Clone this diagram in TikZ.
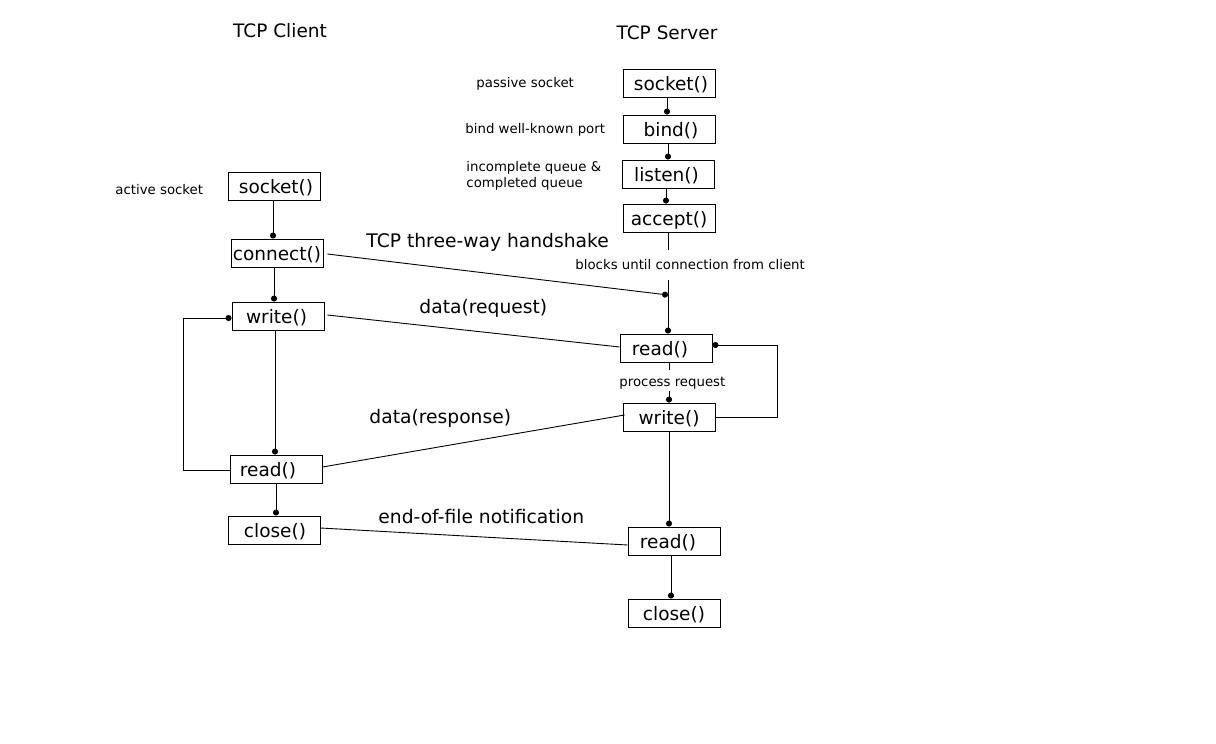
\documentclass[tikz,border=0pt]{standalone}
\usepackage{fontspec}
\setmainfont{DejaVu Sans}
\usetikzlibrary{arrows.meta}
\begin{document}
\begin{tikzpicture}[x=1pt,y=-1pt, line width=0.9pt,
 box/.style={draw, minimum width=92pt, minimum height=28pt, inner sep=0pt, text height=15.5pt, text depth=0.5pt, font=\fontsize{18.5}{20}\selectfont},
 lbl/.style={font=\fontsize{13.3}{15.5}\selectfont, anchor=west, inner sep=0pt, align=left, yshift=-2pt},
 big/.style={font=\fontsize{18.7}{20}\selectfont, anchor=west, inner sep=0pt, yshift=-2pt},
 ttl/.style={font=\fontsize{18.5}{20}\selectfont, inner sep=0pt, yshift=-1pt},
 dot/.style={-{Circle[length=6pt]}}]
\useasboundingbox (0,0) rectangle (1216,744);
% titles
\node[ttl] (tclient) at (280,30) {TCP Client};
\node[ttl] (tserver) at (667,32) {TCP Server};
% server boxes
\node[box] (ssock) at (669,83) {\hspace*{4pt}socket()};
\node[box] (sbind) at (669,129) {\hspace*{4pt}bind()};
\node[box] (slisten) at (668,174) {\hspace*{-3pt}listen()};
\node[box] (saccept) at (669,218) {accept()};
\node[box] (sread) at (666,348) {\hspace*{-12pt}read()};
\node[box] (swrite) at (669,417) {write()};
\node[box] (sread2) at (674,541) {\hspace*{-12pt}read()};
\node[box] (sclose) at (674,613) {close()};
% client boxes
\node[box] (csock) at (274,186) {\hspace*{4pt}socket()};
\node[box] (cconn) at (277,253) {connect()};
\node[box] (cwrite) at (278,316) {\hspace*{-3pt}write()};
\node[box] (cread) at (276,469) {\hspace*{-16pt}read()};
\node[box] (cclose) at (274,530) {\hspace*{2pt}close()};
% labels
\node[lbl] (lpassive) at (476,82) {passive socket};
\node[lbl] (lbind) at (465,128) {bind well-known port};
\node[lbl] (lqueue) at (466,174) {incomplete queue \&\\completed queue};
\node[lbl] (lactive) at (115,188) {active socket};
\node[lbl] (lblocks) at (575,263) {blocks until connection from client};
\node[lbl] (lprocess) at (619,381) {process request};
\node[big] (lhand) at (366,240) {TCP three-way handshake};
\node[big] (lreq) at (419,306) {data(request)};
\node[big] (lresp) at (369,416) {data(response)};
\node[big] (leof) at (378,515) {end-of-file notification};
% server column connectors
\draw[dot] ([xshift=-2pt]ssock.south) -- ([xshift=-2pt]ssock.south |- sbind.north);
\draw[dot] ([xshift=-1pt]sbind.south) -- ([xshift=-1pt]sbind.south |- slisten.north);
\draw[dot] ([xshift=-2pt]slisten.south) -- ([xshift=-2pt]slisten.south |- saccept.north);
\coordinate (accBot) at (668,250);
\draw (saccept.south -| accBot) -- (accBot);
\coordinate (blkBot) at (668,280);
\coordinate (hs) at (668,295);
\draw[dot] (blkBot) -- (blkBot |- sread.north);
\coordinate (prTop) at (669,370);
\coordinate (prBot) at (669,391);
\draw (sread.south -| prTop) -- (prTop);
\draw[dot] (prBot) -- (prBot |- swrite.north);
\draw[dot] (swrite.south) -- (swrite.south |- sread2.north);
\draw[dot] ([xshift=-3pt]sread2.south) -- ([xshift=-3pt]sread2.south |- sclose.north);
\draw[dot] (swrite.east) -- ++(62,0) |- ([yshift=3pt]sread.east);
% client column connectors
\draw[dot] ([xshift=-1pt]csock.south) -- ([xshift=-1pt]csock.south |- cconn.north);
\draw[dot] ([xshift=-3pt]cconn.south) -- ([xshift=-3pt]cconn.south |- cwrite.north);
\draw[dot] ([xshift=-3pt]cwrite.south) -- ([xshift=-3pt]cwrite.south |- cread.north);
\draw[dot] (cread.south) -- (cread.south |- cclose.north);
\draw[dot] ([yshift=-1pt]cread.west) -- ++(-46,0) |- ([yshift=-2pt]cwrite.west);
% cross connectors
\draw[dot] ([xshift=4pt,yshift=-1pt]cconn.east) -- (hs);
\draw ([xshift=3pt,yshift=1pt]cwrite.east) -- ([yshift=1pt]sread.west);
\draw ([xshift=2pt,yshift=2pt]swrite.west) -- ([yshift=2pt]cread.east);
\draw ([yshift=2pt]cclose.east) -- ([yshift=-4pt]sread2.west);
\end{tikzpicture}
\end{document}
